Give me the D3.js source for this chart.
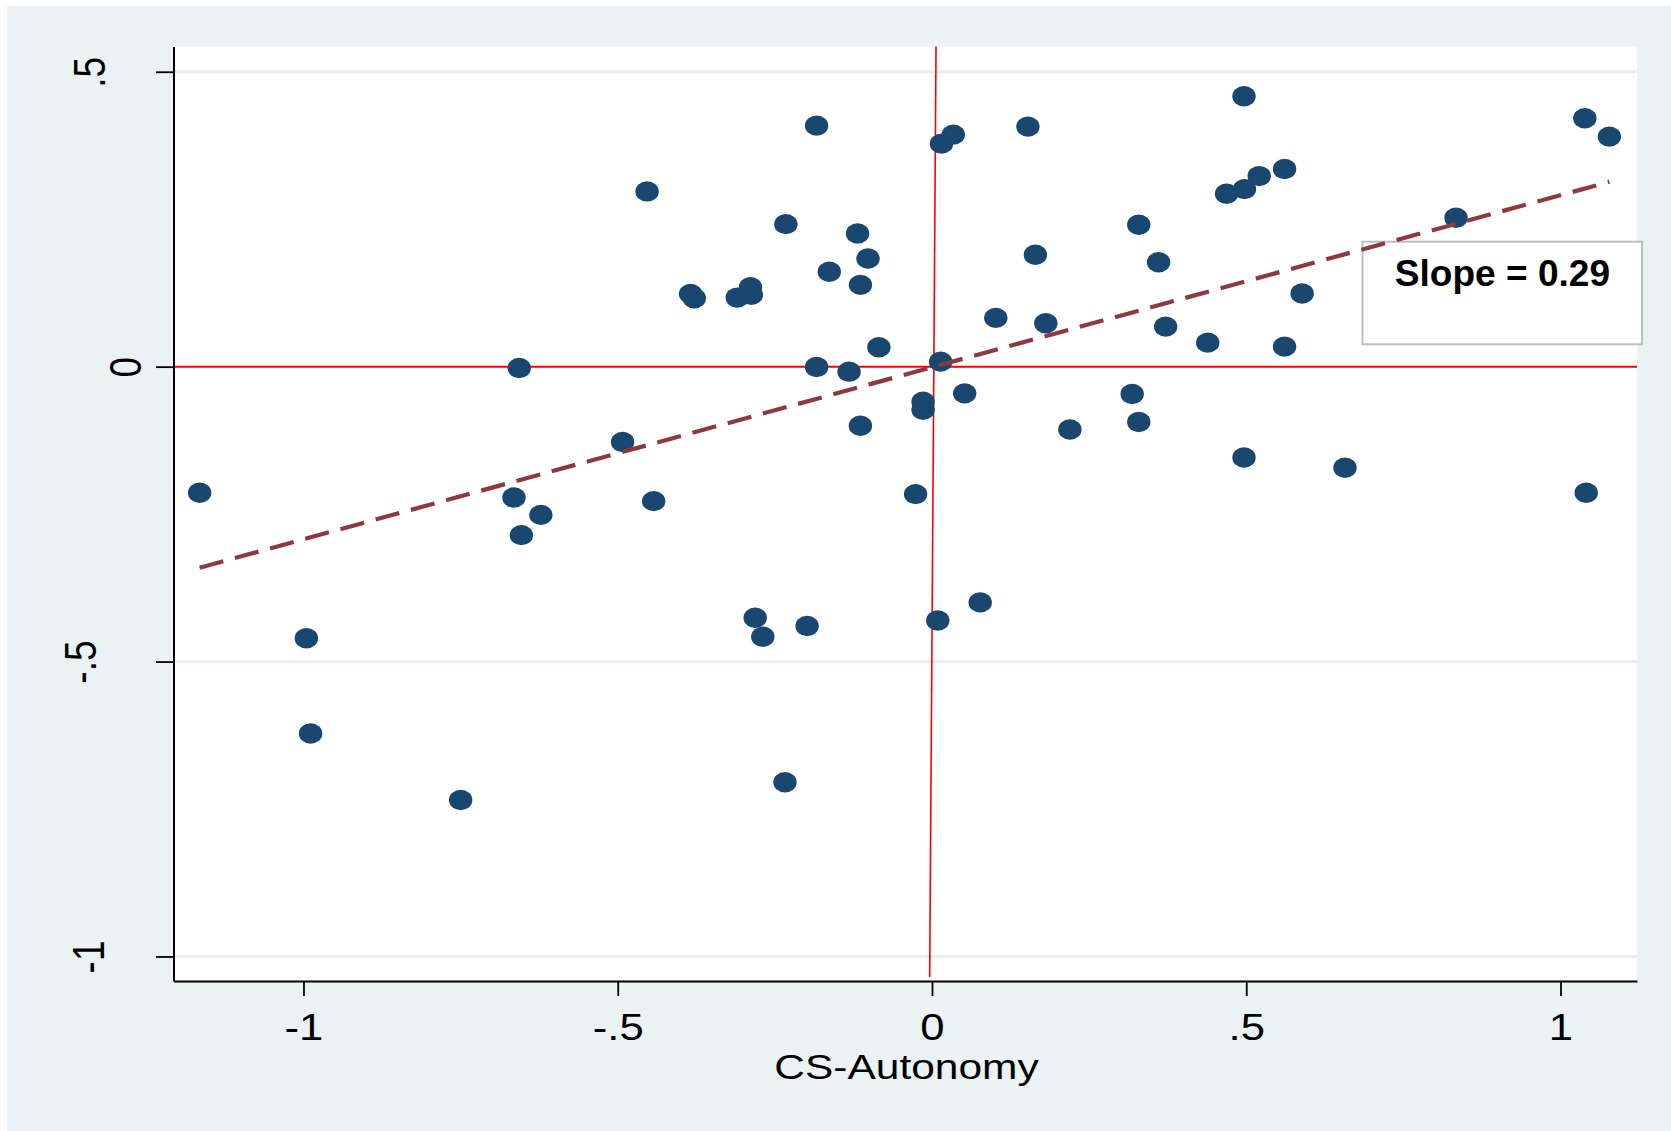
<!DOCTYPE html>
<meta charset="utf-8">
<title>CS-Autonomy scatter</title>
<style>
html, body { margin: 0; padding: 0; background: #fff; }
svg { display: block; font-family: "Liberation Sans", Arial, Helvetica, sans-serif; }
</style>
<body>
<script src="https://cdn.jsdelivr.net/npm/d3@7"></script>
<script>
'use strict';

// CS-Autonomy (x) and the outcome (y), one entry per country
const autonomy = [
  -0.1836, -0.4533, -0.2325, -0.1184, -0.1018, -0.1634, -0.1139, -0.3841, -0.3782, -0.3098,
  -0.2888, -0.2874, -0.0845, -0.6568, -0.1836, -0.1319, -0.1139, -0.4923, -1.1652, -0.6651,
  -0.6223, -0.4428, -0.0261,  0.0151,  0.0339,  0.1526,  0.4964,  1.0387,  1.0777,  0.5610,
   0.5206,  0.4972,  0.4687,  0.3290,  0.8337,  0.1645,  0.3605,  0.5889,  0.1015,  0.1811,
   0.3718,  0.4387,  0.5610,  0.0137,  0.0520, -0.0142, -0.0142,  0.3185,  0.3290,  0.2194,
   0.4964,  0.6571,  1.0409, -0.6533, -0.9954, -0.9887, -0.7499, -0.2813, -0.2692, -0.1987,
  -0.2339,  0.0092,  0.0767
];
const outcome = [
   0.4087,  0.2971,  0.2416,  0.2258,  0.1834,  0.1608,  0.1387,  0.1234,  0.1160,  0.1171,
   0.1346,  0.1217,  0.0328, -0.0022, -0.0005, -0.0085, -0.1002, -0.1278, -0.2139, -0.2219,
  -0.2513, -0.2280, -0.2161,  0.3781,  0.3934,  0.4070,  0.4584,  0.4211,  0.3900,  0.3350,
   0.3231,  0.3010,  0.2932,  0.2406,  0.2525,  0.1896,  0.1771,  0.1239,  0.0827,  0.0735,
   0.0679,  0.0407,  0.0340,  0.0085, -0.0453, -0.0594, -0.0730, -0.0463, -0.0939, -0.1065,
  -0.1540, -0.1715, -0.2139, -0.2857, -0.4606, -0.6219, -0.7346, -0.4256, -0.4579, -0.4397,
  -0.7046, -0.4304, -0.3997
];

const xTicks = [-1, -0.5, 0, 0.5, 1];
const yTicks = [-1, -0.5, 0, 0.5];
const xTitle = "CS-Autonomy";

// linear fit
const fitSlope = 0.2917;
const fitIntercept = -0.001;
const slopeLabel = "Slope = 0.29";

// the hand-drawn vertical reference line leans a little
const vLineTopX = 0.0064, vLineBottomX = -0.0037;

const W = 1671, H = 1131;
const plot = {left: 173.5, right: 1637, top: 46.5, bottom: 981};
const stretch = 1.18; // the original picture is widened

const x = d3.scaleLinear().domain([-1.2068, 1.1217]).range([plot.left, plot.right]);
const y = d3.scaleLinear().domain([0.5428, -1.0416]).range([plot.top, plot.bottom]);

const stata = d => d === 0 ? "0" : String(d).replace("0.", ".");

const svg = d3.select("body").append("svg")
    .attr("width", W)
    .attr("height", H);

svg.append("rect")
    .attr("x", 7).attr("y", 6)
    .attr("width", W - 7).attr("height", H - 6)
    .attr("fill", "#eaf2f3");

svg.append("rect")
    .attr("x", plot.left).attr("y", plot.top)
    .attr("width", plot.right - plot.left).attr("height", plot.bottom - plot.top)
    .attr("fill", "#fff");

// grid lines (the zero line is drawn in red instead)
svg.append("g").selectAll("line")
    .data(yTicks.filter(d => d !== 0))
  .enter().append("line")
    .attr("x1", plot.left).attr("x2", plot.right)
    .attr("y1", d => y(d)).attr("y2", d => y(d))
    .attr("stroke", "#e6eef0")
    .attr("stroke-width", 3);

// red reference lines
svg.append("line")
    .attr("x1", plot.left).attr("x2", plot.right)
    .attr("y1", y(0)).attr("y2", y(0))
    .attr("stroke", "#ff0000")
    .attr("stroke-width", 2);

svg.append("line")
    .attr("x1", x(vLineTopX)).attr("y1", plot.top)
    .attr("x2", x(vLineBottomX)).attr("y2", plot.bottom - 4)
    .attr("stroke", "#ff0000")
    .attr("stroke-width", 1.6);

// annotation box
svg.append("rect")
    .attr("x", 1362.5).attr("y", 241.7)
    .attr("width", 279.5).attr("height", 102.6)
    .attr("fill", "#fff")
    .attr("stroke", "#bebebe")
    .attr("stroke-width", 2);

svg.append("text")
    .attr("transform", "translate(1502.4,286) scale(1.03,1)")
    .attr("text-anchor", "middle")
    .attr("font-size", 36)
    .attr("font-weight", "bold")
    .attr("fill", "#000")
    .text(slopeLabel);

// points
const pts = autonomy.map((d, i) => ({x: d, y: outcome[i]}));

svg.append("g").selectAll("ellipse")
    .data(pts)
  .enter().append("ellipse")
    .attr("cx", d => x(d.x))
    .attr("cy", d => y(d.y))
    .attr("rx", 11.7)
    .attr("ry", 10.2)
    .attr("fill", "#1a476f");

// fitted line over the range of the data
const xExt = d3.extent(autonomy);
svg.append("path")
    .datum(xExt)
    .attr("d", d3.line().x(d => x(d)).y(d => y(fitIntercept + fitSlope * d)))
    .attr("fill", "none")
    .attr("stroke", "#8c3a3e")
    .attr("stroke-width", 4.2)
    .attr("stroke-dasharray", "24.5,12");

// axes
const xAxis = svg.append("g")
    .attr("transform", "translate(0," + plot.bottom + ")")
    .call(d3.axisBottom(x).tickValues(xTicks).tickFormat(stata).tickSize(15).tickSizeOuter(0));

const yAxis = svg.append("g")
    .attr("transform", "translate(" + plot.left + ",0)")
    .call(d3.axisLeft(y).tickValues(yTicks).tickFormat(stata).tickSize(17.5).tickSizeOuter(0));

[xAxis, yAxis].forEach(a => {
  a.select(".domain").attr("stroke", "#000").attr("stroke-width", 2);
  a.selectAll(".tick line").attr("stroke", "#000").attr("stroke-width", 1.8);
  a.selectAll(".tick text").attr("fill", "#000").attr("font-size", 37)
      .attr("font-family", "Liberation Sans, Arial, Helvetica, sans-serif");
});

xAxis.selectAll(".tick text")
    .attr("y", null).attr("dy", null)
    .attr("text-anchor", "middle")
    .attr("transform", "translate(0,59) scale(" + stretch + ",1)");

// Stata places the vertical labels at uneven distances from the axis
const yLabelGap = {".5": 68.5, "0": 33, "-.5": 78, "-1": 69.5};
yAxis.selectAll(".tick text")
    .attr("x", null).attr("dy", null)
    .attr("text-anchor", "middle")
    .attr("transform", d => "translate(" + (-yLabelGap[stata(d)]) + ",0) scale(" + stretch + ",1) rotate(-90)");

svg.append("text")
    .attr("transform", "translate(906.5,1079) scale(" + stretch + ",1)")
    .attr("text-anchor", "middle")
    .attr("font-size", 36)
    .attr("fill", "#000")
    .text(xTitle);
</script>
</body>
